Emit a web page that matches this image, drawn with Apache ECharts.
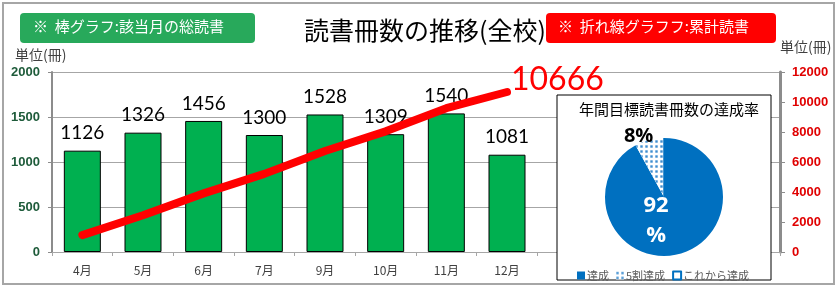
<!DOCTYPE html>
<html>
<head>
<meta charset="utf-8">
<script src="https://cdn.jsdelivr.net/npm/echarts@6/dist/echarts.min.js"></script>
<style>
  html, body { margin: 0; padding: 0; background: #fff; }
  #chart { width: 840px; height: 290px; }
</style>
</head>
<body>
<div id="chart"></div>
<script>
const months = ['4月', '5月', '6月', '7月', '9月', '10月', '11月', '12月', '1月', '2月', '3月', ''];
const monthly = [1126, 1326, 1456, 1300, 1528, 1309, 1540, 1081, null, null, null, null];
const cumulative = [1126, 2452, 3908, 5208, 6736, 8045, 9585, 10666, null, null, null, null];
const pieNames = ['達成', '5割達成', 'これから達成'];
const pieValues = [92, 8, 0];

const jp = '"Noto Sans CJK JP", sans-serif';
const num = 'Lato, "Liberation Sans", sans-serif';
const lastIdx = 7;

const chart = echarts.init(document.getElementById('chart'));

// 累計線: 最後の点だけラベル
const lineData = cumulative.map((v, i) => {
  if (i !== lastIdx) return v;
  return {
    value: v,
    label: {
      show: true, position: [4, -28], align: 'left', verticalAlign: 'top',
      formatter: '{c}',
      fontSize: 32, color: '#FF0000', fontFamily: num
    }
  };
});

const option = {
  animation: false,
  textStyle: { fontFamily: jp },
  grid: { left: 52, right: 60, top: 72, bottom: 38 },
  title: [
    {
      text: '読書冊数の推移(全校)',
      left: 420, top: 13, textAlign: 'center',
      textStyle: { fontSize: 25, fontWeight: 'normal', color: '#000', fontFamily: jp }
    },
    {
      text: '年間目標読書冊数の達成率',
      left: 664, top: 97, textAlign: 'center',
      textStyle: { fontSize: 15, fontWeight: 'normal', color: '#000', fontFamily: jp }
    }
  ],
  legend: {
    data: pieNames,
    left: 572, top: 265,
    itemWidth: 8, itemHeight: 8, itemGap: 7,
    icon: 'rect',
    textStyle: { fontSize: 11, color: '#595959', fontFamily: jp, padding: [0, 0, 0, -3] }
  },
  xAxis: {
    type: 'category',
    data: months,
    axisLine: { lineStyle: { color: '#A6A6A6', width: 1 } },
    axisTick: { show: true, length: 4, lineStyle: { color: '#A6A6A6' } },
    axisLabel: { fontSize: 12, color: '#404040', margin: 12, fontFamily: jp }
  },
  yAxis: [
    {
      type: 'value', min: 0, max: 2000, interval: 500,
      axisLine: { show: true, lineStyle: { color: '#8C8C8C', width: 2 } },
      axisTick: { show: true, length: 4, lineStyle: { color: '#8C8C8C' } },
      axisLabel: {
        fontSize: 13, fontWeight: 'bold', color: '#1E5B3A', margin: 12,
        fontFamily: '"Liberation Sans", Arial, sans-serif',
        formatter: v => String(v)
      },
      splitLine: { lineStyle: { color: '#A6A6A6', width: 1 } }
    },
    {
      type: 'value', min: 0, max: 12000, interval: 2000,
      axisLine: { show: true, lineStyle: { color: '#8C8C8C', width: 3 } },
      axisTick: { show: true, length: 5, lineStyle: { color: '#8C8C8C', width: 1 } },
      axisLabel: {
        fontSize: 13, fontWeight: 'bold', color: '#E00000', margin: 12,
        fontFamily: '"Liberation Sans", Arial, sans-serif',
        formatter: v => String(v)
      },
      splitLine: { show: false }
    }
  ],
  graphic: [
    {
      type: 'rect', z: -1, silent: true,
      shape: { x: 3, y: 3, width: 831, height: 281 },
      style: { fill: 'none', stroke: '#A6A6A6', lineWidth: 2 }
    },
    {
      type: 'rect', z: 5,
      shape: { x: 20, y: 13, width: 235, height: 30, r: 4 },
      style: { fill: '#28A95B' }
    },
    {
      type: 'text', z: 6, left: 33, top: 19,
      style: { text: '※  棒グラフ:該当月の総読書', fill: '#fff', font: '15px ' + jp }
    },
    {
      type: 'rect', z: 5,
      shape: { x: 546, y: 13, width: 230, height: 30, r: 4 },
      style: { fill: '#FF0000' }
    },
    {
      type: 'text', z: 6, left: 558, top: 19,
      style: { text: '※  折れ線グラフフ:累計読書', fill: '#fff', font: '15px ' + jp }
    },
    {
      type: 'text', z: 6, left: 15, top: 48,
      style: { text: '単位(冊)', fill: '#404040', font: '14px ' + jp }
    },
    {
      type: 'text', z: 6, left: 780, top: 40,
      style: { text: '単位(冊)', fill: '#404040', font: '14px ' + jp }
    },
    {
      type: 'rect', z: 3,
      shape: { x: 557, y: 95, width: 214, height: 185 },
      style: { fill: '#fff', stroke: '#000', lineWidth: 1 }
    }
  ],
  series: [
    {
      name: '月別',
      type: 'bar',
      data: monthly,
      barWidth: 37,
      itemStyle: { color: '#00B050', borderColor: '#000', borderWidth: 1 },
      label: {
        show: true, position: 'top', distance: 8,
        fontSize: 19, color: '#000', fontFamily: num
      },
      z: 2
    },
    {
      name: '累計',
      type: 'line',
      yAxisIndex: 1,
      data: lineData,
      showSymbol: true,
      symbol: 'circle',
      symbolSize: 0.1,
      itemStyle: { color: '#FF0000' },
      lineStyle: { color: '#FF0000', width: 8, cap: 'round', join: 'round' },
      label: { show: false },
      labelLayout: { hideOverlap: false },
      z: 4
    },
    {
      name: '達成率',
      type: 'pie',
      center: [664, 197],
      radius: 59,
      startAngle: 90,
      clockwise: true,
      z: 10,
      data: pieValues.map((v, i) => ({ name: pieNames[i], value: v })),
      itemStyle: { borderWidth: 0 },
      labelLine: { show: false },
      label: { show: false },
      emphasis: { disabled: true }
    }
  ]
};

// per-slice styles
const pieData = option.series[2].data;
pieData[0].itemStyle = { color: '#0070C0' };
pieData[0].label = {
  show: true, position: 'inside', formatter: '92\n%',
  color: '#fff', fontSize: 22, fontWeight: 'bold', lineHeight: 30,
  fontFamily: '"Open Sans", sans-serif', offset: [-16, -8]
};
pieData[1].itemStyle = {
  color: '#FFFFFF',
  decal: { symbol: 'rect', color: '#3F8FD0', symbolSize: 0.8, dashArrayX: [3, 2], dashArrayY: [3, 2], rotation: 0 }
};
pieData[1].label = {
  show: true, position: 'outside', formatter: '8%',
  color: '#000', fontSize: 20, fontWeight: 'bold', fontFamily: '"Open Sans", sans-serif',
  offset: [14, 0]
};
pieData[1].labelLine = { show: false, length: 4, length2: 4 };
pieData[2].itemStyle = { color: '#FFFFFF', borderColor: '#0070C0', borderWidth: 1 };

chart.setOption(option);
</script>
</body>
</html>
